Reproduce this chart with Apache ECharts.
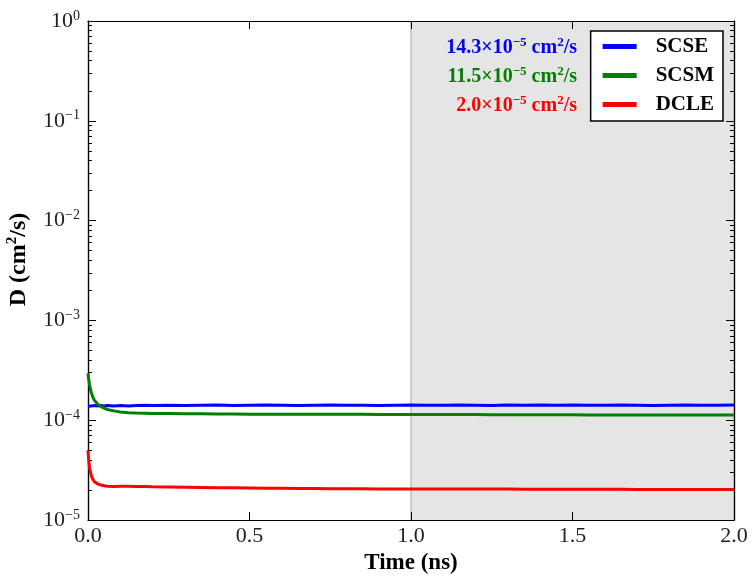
<!DOCTYPE html>
<html><head><meta charset="utf-8">
<script src="https://cdn.jsdelivr.net/npm/echarts@6/dist/echarts.min.js"></script>
<style>html,body{margin:0;padding:0;background:#fff}#c{width:754px;height:582px}</style>
</head><body><div id="c"></div>
<script>
// time in ns
const times = [0, 0.002, 0.005, 0.01, 0.015, 0.02, 0.03, 0.04, 0.05, 0.06, 0.08, 0.1, 0.125, 0.15, 0.175,
  0.2, 0.25, 0.3, 0.35, 0.4, 0.45, 0.5, 0.55, 0.6, 0.65, 0.7, 0.75, 0.8, 0.85, 0.9, 0.95, 1.0,
  1.05, 1.1, 1.15, 1.2, 1.25, 1.3, 1.35, 1.4, 1.45, 1.5, 1.55, 1.6, 1.65, 1.7, 1.75, 1.8, 1.85, 1.9, 1.95, 2.0];
// D values in units of 1e-5 cm^2/s
const scse = [13.8, 13.9, 13.8, 13.9, 13.9, 14.0, 13.9, 14.0, 13.9, 14.0, 13.9, 14.0, 13.9, 14.0, 14.1,
  14.0, 14.1, 14.0, 14.1, 14.2, 14.0, 14.1, 14.2, 14.1, 14.0, 14.1, 14.2, 14.1, 14.1, 14.0, 14.1, 14.2,
  14.1, 14.1, 14.2, 14.1, 14.0, 14.2, 14.1, 14.2, 14.1, 14.2, 14.1, 14.1, 14.2, 14.1, 14.0, 14.1, 14.2, 14.1, 14.1, 14.2];
const scsm = [29.5, 26.0, 22.5, 19.0, 17.0, 15.8, 14.5, 13.7, 13.2, 12.8, 12.4, 12.1, 11.9, 11.8, 11.75,
  11.7, 11.65, 11.6, 11.6, 11.55, 11.55, 11.5, 11.5, 11.5, 11.5, 11.45, 11.45, 11.45, 11.45, 11.4, 11.4, 11.4,
  11.4, 11.4, 11.4, 11.4, 11.35, 11.35, 11.35, 11.35, 11.35, 11.35, 11.3, 11.3, 11.3, 11.3, 11.3, 11.3, 11.3, 11.3, 11.3, 11.3];
const dcle = [5.0, 4.0, 3.3, 2.8, 2.55, 2.42, 2.3, 2.24, 2.2, 2.18, 2.17, 2.18, 2.18, 2.17, 2.16,
  2.15, 2.14, 2.13, 2.12, 2.11, 2.1, 2.09, 2.08, 2.08, 2.07, 2.07, 2.06, 2.06, 2.06, 2.05, 2.05, 2.05,
  2.05, 2.04, 2.04, 2.04, 2.04, 2.04, 2.03, 2.03, 2.03, 2.03, 2.03, 2.03, 2.03, 2.02, 2.02, 2.02, 2.02, 2.02, 2.02, 2.02];
const seriesNames = ['SCSE', 'SCSM', 'DCLE'];
const seriesColors = ['#0000ff', '#008000', '#ff0000'];
const annotationValues = ['14.3', '11.5', '2.0'];
const xTickLabels = ['0.0', '0.5', '1.0', '1.5', '2.0'];
const shadeRange = [1.0, 2.0];
const yMin = 1e-5, yMax = 1;
const yMinor = [];
for (let d = -5; d < 0; d++) for (let m = 2; m <= 9; m++) yMinor.push(m * Math.pow(10, d));

const SERIF = '"Liberation Serif","DejaVu Serif",serif';
const toPairs = arr => times.map((t, i) => [t, arr[i] * 1e-5]);
const sup = n => (n < 0 ? '\u2212' + (-n) : String(n));

const chart = echarts.init(document.getElementById('c'));
function logAxis(extra) {
  return Object.assign({
    type: 'log', logBase: 10, min: yMin, max: yMax, z: 3,
    axisLine: { show: true, onZero: false, lineStyle: { color: '#000', width: 1.2 } },
    splitLine: { show: false }, minorSplitLine: { show: false }
  }, extra);
}
const yAxes = [
  logAxis({
    position: 'left',
    name: '{b|D (cm}{s|2}{b|/s)}', nameLocation: 'middle', nameGap: 56,
    nameTextStyle: { padding: [0, 0, 0, 22], rich: {
      b: { fontFamily: SERIF, fontWeight: 'bold', fontSize: 24, color: '#000', lineHeight: 27 },
      s: { fontFamily: SERIF, fontWeight: 'bold', fontSize: 15, color: '#000', lineHeight: 16, verticalAlign: 'top' } } },
    axisTick: { show: true, inside: true, length: 8, lineStyle: { color: '#000', width: 1 } },
    axisLabel: {
      show: true, margin: 8,
      formatter: v => '{b|10}{s|' + sup(Math.round(Math.log10(v))) + '}',
      rich: {
        b: { fontFamily: SERIF, fontSize: 22, color: '#222', lineHeight: 24 },
        s: { fontFamily: SERIF, fontSize: 14, color: '#222', lineHeight: 14, verticalAlign: 'top' }
      }
    }
  }),
  logAxis({
    position: 'left', axisLabel: { show: false },
    axisTick: { show: true, inside: true, length: 4, customValues: yMinor, lineStyle: { color: '#000', width: 1 } }
  }),
  logAxis({
    position: 'right', axisLabel: { show: false },
    axisTick: { show: true, inside: true, length: 8, lineStyle: { color: '#000', width: 1 } }
  }),
  logAxis({
    position: 'right', axisLabel: { show: false },
    axisTick: { show: true, inside: true, length: 4, customValues: yMinor, lineStyle: { color: '#000', width: 1 } }
  })
];
function xAxis(extra) {
  return Object.assign({
    type: 'value', min: 0, max: 2, interval: 0.5, z: 3,
    axisLine: { show: true, onZero: false, lineStyle: { color: '#000', width: 1.2 } },
    axisTick: { show: true, inside: true, length: 8, lineStyle: { color: '#000', width: 1 } },
    splitLine: { show: false }
  }, extra);
}
const xAxes = [
  xAxis({
    position: 'bottom',
    name: 'Time (ns)', nameLocation: 'middle', nameGap: 31,
    nameTextStyle: { fontFamily: SERIF, fontWeight: 'bold', fontSize: 23, color: '#000' },
    axisLabel: { show: true, margin: 5, fontFamily: SERIF, fontSize: 22, color: '#222',
      formatter: v => xTickLabels[Math.round(v / 0.5)] }
  }),
  xAxis({ position: 'top', axisLabel: { show: false } })
];

const series = seriesNames.map((name, i) => {
  const s = {
    name, type: 'line', xAxisIndex: 0, yAxisIndex: 0, z: 4,
    data: toPairs([scse, scsm, dcle][i]),
    showSymbol: false, symbol: 'none', smooth: false,
    lineStyle: { color: seriesColors[i], width: 3 },
    itemStyle: { color: seriesColors[i] }
  };
  if (i === 0) {
    s.markArea = { silent: true, z: 1, itemStyle: { color: '#e5e5e5' },
      data: [[{ xAxis: shadeRange[0] }, { xAxis: shadeRange[1] }]] };
    s.markLine = { silent: true, z: 2, symbol: 'none', label: { show: false },
      lineStyle: { color: '#bdbdbd', width: 1.5, type: 'solid' },
      data: [{ xAxis: shadeRange[0] }] };
  }
  return s;
});

const annotationGraphics = annotationValues.map((v, i) => ({
  type: 'text', right: 177, top: 36 + i * 29, z: 10,
  style: {
    text: '{t|' + v + '\u00d710}{s|\u22125}{t| cm}{s|2}{t|/s}',
    rich: {
      t: { fontFamily: SERIF, fontWeight: 'bold', fontSize: 20, fill: seriesColors[i], lineHeight: 24 },
      s: { fontFamily: SERIF, fontWeight: 'bold', fontSize: 13, fill: seriesColors[i], lineHeight: 14, verticalAlign: 'top' }
    }
  }
}));

chart.setOption({
  backgroundColor: '#fff',
  animation: false,
  grid: { left: 88, right: 20, top: 21, bottom: 62, containLabel: false, outerBoundsMode: 'none' },
  xAxis: xAxes,
  yAxis: yAxes,
  legend: {
    data: seriesNames, orient: 'vertical', right: 31, top: 31, z: 10,
    icon: 'rect', itemWidth: 34, itemHeight: 5, itemGap: 8,
    backgroundColor: '#fff', borderColor: '#000', borderWidth: 1.5, borderRadius: 0,
    padding: [5, 9, 6, 12],
    textStyle: { fontFamily: SERIF, fontWeight: 'bold', fontSize: 21, color: '#000', lineHeight: 21, padding: [0, 0, 0, 14] }
  },
  graphic: annotationGraphics,
  series
});
</script>
</body></html>
